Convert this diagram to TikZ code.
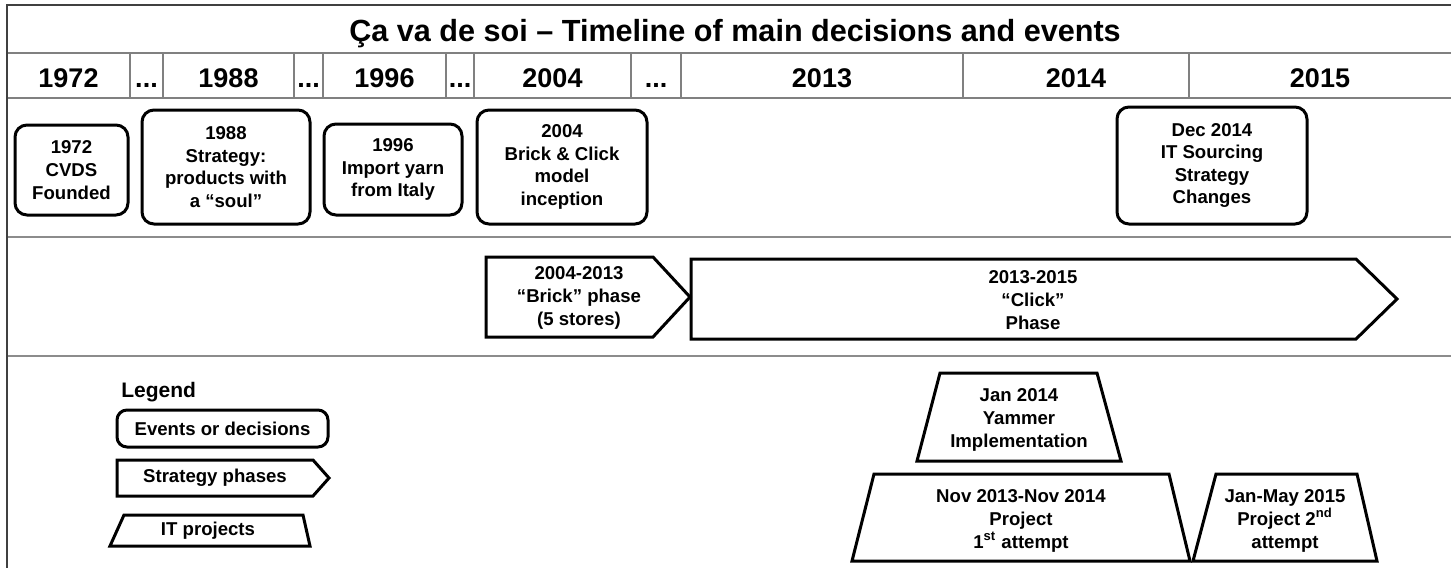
\documentclass[tikz,border=0pt]{standalone}
\usepackage{fontspec}
\setmainfont{Liberation Sans}
\newcommand\mybody{\fontsize{9.3}{11.3}\selectfont\bfseries}
\newcommand\myyear{\fontsize{13.5}{16}\selectfont\bfseries}
\newcommand\mytitle{\fontsize{15.3}{18}\selectfont\bfseries}
\newcommand\mylegend{\fontsize{10.5}{12}\selectfont\bfseries}
\begin{document}
\begin{tikzpicture}[x=0.5pt,y=-0.5pt,
  frame/.style={line width=1pt, draw=black!75},
  gridline/.style={line width=0.6pt, draw=black!50},
  sect/.style={line width=1pt, draw=black!45},
  shp/.style={line width=1.5pt, draw=black, line join=miter},
  evbox/.style={shp, rounded corners=6pt, align=center, font=\mybody, inner sep=0pt},
  lbl/.style={align=center, font=\mybody, inner sep=0pt},
  yearlbl/.style={font=\myyear, inner sep=0pt, anchor=base},
]
\useasboundingbox (0,0) rectangle (1451,568);
\fill[white] (0,0) rectangle (1451,568);
% table lines
\draw[gridline] (7,53) -- (1451,53);
\draw[gridline] (7,98) -- (1451,98);
\foreach \x in {130,163,294,323,446,474,631,681,963,1189} \draw[gridline] (\x,53) -- (\x,98);
\draw[sect] (7,237) -- (1451,237);
\draw[sect] (7,356) -- (1451,356);
\draw[frame] (1451,5) -- (7,5) -- (7,568);
% title
\node[font=\mytitle, inner sep=0pt, anchor=base] (title) at (735,41) {Ça va de soi – Timeline of main decisions and events};
% years
\node[yearlbl] (y1972) at (68.5,87) {1972};
\node[yearlbl] (d1) at (146.5,87) {...};
\node[yearlbl] (y1988) at (228.5,87) {1988};
\node[yearlbl] (d2) at (308.5,87) {...};
\node[yearlbl] (y1996) at (384.5,87) {1996};
\node[yearlbl] (d3) at (460,87) {...};
\node[yearlbl] (y2004) at (552.5,87) {2004};
\node[yearlbl] (d4) at (656,87) {...};
\node[yearlbl] (y2013) at (822,87) {2013};
\node[yearlbl] (y2014) at (1076,87) {2014};
\node[yearlbl] (y2015) at (1320,87) {2015};
% events
\node[evbox, minimum width=56.5pt, minimum height=45pt] (e1972) at (71.5,170) {1972\\CVDS\\Founded};
\node[evbox, minimum width=84pt, minimum height=57pt] (e1988) at (226,167) {1988\\Strategy:\\products with\\a “soul”};
\node[evbox, minimum width=69pt, minimum height=45.5pt] (e1996) at (393,169.5) {1996\\Import yarn\\from Italy};
\node[evbox, minimum width=85pt, minimum height=57pt] (e2004) at (562,167) {2004\\Brick \& Click\\model\\inception};
\node[evbox, minimum width=95pt, minimum height=58.5pt] (e2014) at (1212,165.5) {Dec 2014\\IT Sourcing\\Strategy\\Changes};
% phases
\draw[shp] (486,257) -- (653,257) -- (690,297) -- (653,337) -- (486,337) -- cycle;
\node[lbl] (brick) at (579,298) {2004-2013\\“Brick” phase\\(5 stores)};
\draw[shp] (691,259) -- (1356,259) -- (1397,299) -- (1356,339) -- (691,339) -- cycle;
\node[lbl] (click) at (1033,300) {2013-2015\\“Click”\\Phase};
% IT projects
\draw[shp] (940,373) -- (1097,373) -- (1121,461) -- (917,461) -- cycle;
\node[lbl] (yammer) at (1019,420) {Jan 2014\\Yammer\\Implementation};
\draw[shp] (874,474) -- (1169,474) -- (1190,561) -- (852,561) -- cycle;
\node[lbl] (proj1) at (1021,521) {Nov 2013-Nov 2014\\Project\\1\textsuperscript{st} attempt};
\draw[shp] (1216,474) -- (1357,474) -- (1377,561) -- (1193,561) -- cycle;
\node[lbl] (proj2) at (1285,521) {Jan-May 2015\\Project 2\textsuperscript{nd}\\attempt};
% legend
\node[font=\mylegend, inner sep=0pt, anchor=west] (legend) at (121,392) {Legend};
\node[evbox, rounded corners=5pt, minimum width=105.5pt, minimum height=18.5pt] (lgev) at (222.5,428.5) {Events or decisions};
\draw[shp] (117,460) -- (313,460) -- (329,478) -- (313,496) -- (117,496) -- cycle;
\node[lbl] (lgph) at (215,478) {Strategy phases};
\draw[shp] (124,515) -- (303,515) -- (310,546) -- (110,546) -- cycle;
\node[lbl] (lgit) at (208,531) {IT projects};
\end{tikzpicture}
\end{document}
